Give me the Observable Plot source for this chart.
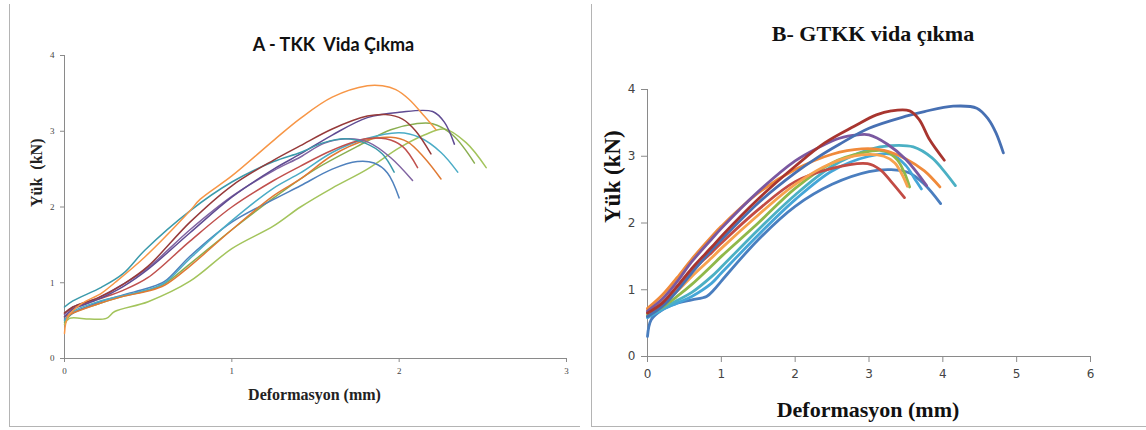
<!DOCTYPE html>
<html>
<head>
<meta charset="utf-8">
<script src="https://cdn.jsdelivr.net/npm/d3@7"></script>
<script src="https://cdn.jsdelivr.net/npm/@observablehq/plot@0.6"></script>
<style>
  html, body { margin: 0; padding: 0; background: #fff; }
  #wrap { position: relative; width: 1146px; height: 430px; overflow: hidden; }
  .frame { position: absolute; border-left: 1px solid #b4b4b4; border-bottom: 1px solid #b4b4b4; }
  #A, #B { position: absolute; top: 0; }
  #A { left: 0; }
  #B { left: 580px; }
</style>
</head>
<body>
<div id="wrap">
  <div class="frame" style="left:9px; top:4px; width:570px; height:422px;"></div>
  <div class="frame" style="left:591px; top:4px; width:560px; height:422px;"></div>
  <div id="A"></div>
  <div id="B"></div>
</div>
<script>
// ---------- Panel A : TKK ----------
const titleA = "A - TKK\u00a0 Vida Çıkma";
const xLabelA = "Deformasyon (mm)";
const yLabelA = "Yük\u00a0 (kN)";
const xTicksA = [0, 1, 2, 3];
const yTicksA = [0, 1, 2, 3, 4];

const A_orange  = [[0,0.33],[0.02,0.55],[0.1,0.72],[0.22,0.86],[0.3,1.0],[0.48,1.34],[0.75,1.95],[0.81,2.1],[1.0,2.41],[1.25,2.88],[1.41,3.17],[1.6,3.45],[1.81,3.6],[1.9,3.6],[1.98,3.55],[2.06,3.42],[2.15,3.2],[2.22,3.02]];
const A_teal    = [[0,0.68],[0.05,0.76],[0.22,0.94],[0.35,1.12],[0.48,1.43],[0.75,1.95],[1.0,2.33],[1.25,2.6],[1.41,2.72],[1.55,2.85],[1.68,2.9],[1.8,2.84],[1.9,2.7],[1.97,2.46]];
const A_darkred = [[0,0.6],[0.05,0.68],[0.2,0.8],[0.35,0.98],[0.5,1.22],[0.75,1.8],[1.0,2.28],[1.25,2.62],[1.41,2.81],[1.6,3.03],[1.81,3.2],[1.92,3.22],[2.02,3.16],[2.1,3.0],[2.19,2.7]];
const A_purple1 = [[0,0.55],[0.05,0.65],[0.2,0.78],[0.35,0.95],[0.5,1.18],[0.75,1.66],[1.0,2.13],[1.25,2.5],[1.41,2.7],[1.6,2.95],[1.81,3.18],[2.0,3.25],[2.2,3.26],[2.27,3.12],[2.33,2.83]];
const A_green   = [[0,0.48],[0.05,0.6],[0.2,0.72],[0.35,0.82],[0.5,0.9],[0.6,0.99],[0.75,1.25],[1.0,1.7],[1.25,2.12],[1.5,2.5],[1.75,2.8],[1.95,3.02],[2.1,3.1],[2.2,3.1],[2.32,2.95],[2.45,2.58]];
const A_lime    = [[0,0.45],[0.03,0.53],[0.15,0.52],[0.25,0.53],[0.3,0.62],[0.5,0.75],[0.75,1.02],[1.0,1.45],[1.25,1.75],[1.41,2.0],[1.6,2.25],[1.81,2.5],[2.0,2.78],[2.15,2.95],[2.27,3.03],[2.4,2.85],[2.52,2.52]];
const A_cyan    = [[0,0.5],[0.05,0.62],[0.2,0.75],[0.35,0.83],[0.5,0.91],[0.6,1.0],[0.75,1.32],[1.0,1.82],[1.25,2.25],[1.41,2.45],[1.6,2.72],[1.8,2.9],[2.0,2.98],[2.12,2.92],[2.25,2.72],[2.35,2.46]];
const A_orange2 = [[0,0.55],[0.05,0.6],[0.2,0.72],[0.35,0.82],[0.5,0.89],[0.6,0.97],[0.75,1.22],[1.0,1.7],[1.25,2.15],[1.41,2.37],[1.6,2.68],[1.8,2.88],[1.95,2.92],[2.05,2.86],[2.15,2.65],[2.25,2.37]];
const A_red     = [[0,0.6],[0.05,0.66],[0.2,0.78],[0.35,0.9],[0.5,1.07],[0.75,1.55],[1.0,2.0],[1.25,2.35],[1.41,2.54],[1.6,2.75],[1.8,2.9],[1.92,2.9],[2.02,2.8],[2.11,2.52]];
const A_purple2 = [[0,0.58],[0.05,0.68],[0.2,0.8],[0.35,0.98],[0.5,1.2],[0.75,1.7],[1.0,2.14],[1.25,2.48],[1.41,2.66],[1.55,2.84],[1.7,2.9],[1.82,2.85],[1.95,2.65],[2.08,2.35]];
const A_blue    = [[0,0.52],[0.05,0.6],[0.2,0.74],[0.35,0.84],[0.5,0.93],[0.6,1.02],[0.75,1.35],[1.0,1.8],[1.25,2.1],[1.41,2.28],[1.6,2.5],[1.75,2.6],[1.85,2.58],[1.93,2.45],[2.0,2.12]];

const seriesA = [
  ["lime", "#a3c45c", A_lime], ["green", "#8aae50", A_green], ["blue", "#4f81bd", A_blue],
  ["cyan", "#4bacc6", A_cyan], ["orange2", "#e07a34", A_orange2], ["red", "#c0504d", A_red],
  ["purple2", "#8064a2", A_purple2], ["purple1", "#5f4b92", A_purple1], ["teal", "#3b9aab", A_teal],
  ["darkred", "#963a3a", A_darkred], ["orange", "#f79646", A_orange]
];

// ---------- Panel B : GTKK ----------
const titleB = "B- GTKK vida çıkma";
const xLabelB = "Deformasyon (mm)";
const yLabelB = "Yük (kN)";
const xTicksB = [0, 1, 2, 3, 4, 5, 6];
const yTicksB = [0, 1, 2, 3, 4];

const B_blue    = [[0,0.6],[0.2,0.75],[0.4,0.98],[0.6,1.25],[0.87,1.6],[1.0,1.75],[1.5,2.3],[2.0,2.75],[2.3,2.98],[2.6,3.18],[3.0,3.42],[3.5,3.6],[3.75,3.67],[4.14,3.75],[4.46,3.72],[4.62,3.55],[4.72,3.35],[4.82,3.05]];
const B_darkred = [[0,0.65],[0.2,0.8],[0.4,1.05],[0.6,1.32],[0.87,1.64],[1.0,1.8],[1.5,2.36],[2.0,2.85],[2.4,3.2],[2.8,3.45],[3.1,3.62],[3.3,3.68],[3.55,3.68],[3.68,3.55],[3.82,3.25],[4.02,2.94]];
const B_purple  = [[0,0.68],[0.2,0.86],[0.4,1.12],[0.6,1.42],[0.87,1.76],[1.0,1.92],[1.5,2.47],[2.0,2.93],[2.3,3.12],[2.6,3.27],[2.85,3.32],[3.0,3.32],[3.25,3.18],[3.5,2.95],[3.78,2.56]];
const B_orange  = [[0,0.72],[0.2,0.92],[0.4,1.18],[0.6,1.46],[0.87,1.8],[1.0,1.95],[1.5,2.45],[2.0,2.8],[2.5,3.03],[2.9,3.11],[3.2,3.09],[3.5,2.96],[3.75,2.78],[3.96,2.54]];
const B_orange2 = [[0,0.7],[0.2,0.82],[0.4,0.98],[0.6,1.2],[0.87,1.48],[1.0,1.62],[1.5,2.12],[2.0,2.58],[2.5,2.9],[2.9,3.02],[3.2,3.0],[3.35,2.9],[3.45,2.72],[3.52,2.55]];
const B_cyan    = [[0,0.6],[0.2,0.72],[0.4,0.84],[0.6,0.96],[0.87,1.2],[1.0,1.34],[1.5,1.9],[2.0,2.42],[2.5,2.85],[3.0,3.1],[3.3,3.16],[3.6,3.14],[3.85,2.98],[4.0,2.8],[4.17,2.56]];
const B_green   = [[0,0.62],[0.2,0.74],[0.4,0.9],[0.6,1.08],[0.87,1.36],[1.0,1.5],[1.5,2.0],[2.0,2.52],[2.5,2.9],[2.9,3.05],[3.2,3.08],[3.38,2.95],[3.48,2.75],[3.55,2.54]];
const B_red     = [[0,0.66],[0.2,0.8],[0.4,1.04],[0.6,1.28],[0.87,1.56],[1.0,1.7],[1.5,2.2],[2.0,2.62],[2.5,2.82],[2.98,2.89],[3.15,2.8],[3.3,2.62],[3.48,2.38]];
const B_ltblue  = [[0,0.58],[0.2,0.7],[0.4,0.8],[0.6,0.9],[0.87,1.1],[1.0,1.25],[1.5,1.82],[2.0,2.35],[2.5,2.78],[3.0,3.0],[3.3,3.03],[3.5,2.86],[3.62,2.66],[3.71,2.51]];
const B_blue2   = [[0,0.3],[0.05,0.55],[0.2,0.7],[0.4,0.8],[0.6,0.85],[0.8,0.9],[0.9,1.0],[1.0,1.13],[1.5,1.75],[2.0,2.25],[2.5,2.58],[3.0,2.77],[3.3,2.8],[3.55,2.75],[3.75,2.58],[3.97,2.29]];

const seriesB = [
  ["blue2", "#4a7ebf", B_blue2], ["ltblue", "#45a6d8", B_ltblue], ["cyan", "#4bb0c4", B_cyan],
  ["green", "#8fb84a", B_green], ["red", "#c24b44", B_red], ["orange2", "#f7a24e", B_orange2],
  ["orange", "#f08a3a", B_orange], ["purple", "#7a58a0", B_purple], ["blue", "#4770b3", B_blue],
  ["darkred", "#a8352f", B_darkred]
];

function toRows(series) {
  return series.flatMap(([s, c, pts]) => pts.map(([x, y]) => ({s, c, x, y})));
}
const dataA = toRows(seriesA);
const dataB = toRows(seriesB);

const serif = "'Liberation Serif', 'Times New Roman', serif";

const plotA = Plot.plot({
  width: 580, height: 430,
  marginLeft: 64, marginRight: 14, marginTop: 55, marginBottom: 72,
  x: {domain: [0, 3]},
  y: {domain: [0, 4]},
  color: {type: "identity"},
  style: {fontFamily: serif, fontSize: "9px", color: "#333", background: "transparent", overflow: "visible"},
  marks: [
    Plot.axisX({ticks: xTicksA, tickSize: 4, tickPadding: 5, stroke: "#8a8a8a", fill: "#444", label: null, tickFormat: d => String(d)}),
    Plot.axisY({ticks: yTicksA, tickSize: 4, tickPadding: 6, stroke: "#8a8a8a", fill: "#444", label: null, tickFormat: d => String(d)}),
    Plot.ruleY([0], {stroke: "#8a8a8a"}),
    Plot.ruleX([0], {stroke: "#8a8a8a"}),
    Plot.line(dataA, {x: "x", y: "y", z: "s", stroke: "c", strokeWidth: 1.5, curve: "catmull-rom"}),
    Plot.text([titleA], {text: d => d, frameAnchor: "top", lineAnchor: "middle", dx: 18, dy: -10,
      fontFamily: "Lato, 'Open Sans', sans-serif", fontWeight: "bold", fontSize: 18, fill: "#111"}),
    Plot.text([xLabelA], {text: d => d, frameAnchor: "bottom", lineAnchor: "middle", dx: -1, dy: 36,
      fontFamily: serif, fontWeight: "bold", fontSize: 16, fill: "#222"}),
    Plot.text([yLabelA], {text: d => d, frameAnchor: "left", lineAnchor: "middle", dx: -28, rotate: -90,
      fontFamily: serif, fontWeight: "bold", fontSize: 16, fill: "#222"})
  ]
});
document.getElementById("A").appendChild(plotA);

const plotB = Plot.plot({
  width: 566, height: 430,
  marginLeft: 67, marginRight: 56, marginTop: 89, marginBottom: 74,
  x: {domain: [0, 6]},
  y: {domain: [0, 4]},
  color: {type: "identity"},
  style: {fontFamily: "'DejaVu Sans', Verdana, sans-serif", fontSize: "12px", color: "#333", background: "transparent", overflow: "visible"},
  marks: [
    Plot.axisX({ticks: xTicksB, tickSize: 6, tickPadding: 7, stroke: "#8a8a8a", fill: "#444", label: null, tickFormat: d => String(d)}),
    Plot.axisY({ticks: yTicksB, tickSize: 6, tickPadding: 6, stroke: "#8a8a8a", fill: "#444", label: null, tickFormat: d => String(d)}),
    Plot.ruleY([0], {stroke: "#8a8a8a"}),
    Plot.ruleX([0], {stroke: "#8a8a8a"}),
    Plot.line(dataB, {x: "x", y: "y", z: "s", stroke: "c", strokeWidth: 2.8, curve: "catmull-rom", strokeLinecap: "round"}),
    Plot.text([titleB], {text: d => d, frameAnchor: "top", lineAnchor: "middle", dx: 4, dy: -56,
      fontFamily: serif, fontWeight: "bold", fontSize: 22, fill: "#111"}),
    Plot.text([xLabelB], {text: d => d, frameAnchor: "bottom", lineAnchor: "middle", dx: -1, dy: 53,
      fontFamily: serif, fontWeight: "bold", fontSize: 22, fill: "#111"}),
    Plot.text([yLabelB], {text: d => d, frameAnchor: "left", lineAnchor: "middle", dx: -35, rotate: -90,
      fontFamily: serif, fontWeight: "bold", fontSize: 23, fill: "#111"})
  ]
});
document.getElementById("B").appendChild(plotB);
</script>
</body>
</html>
